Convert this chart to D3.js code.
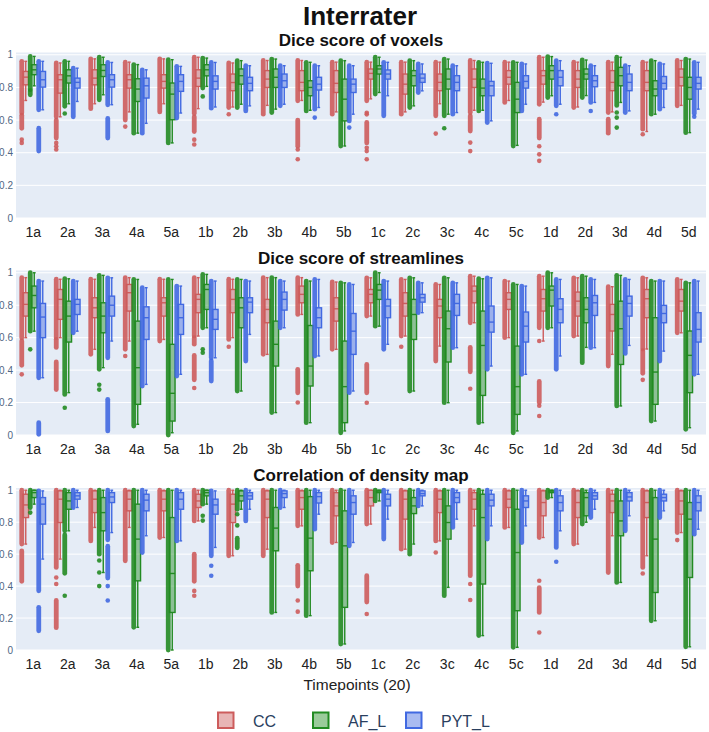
<!DOCTYPE html>
<html><head><meta charset="utf-8">
<script src="https://cdn.jsdelivr.net/npm/d3@7"></script>
<style>body{margin:0;background:#fff}svg{font-family:"Liberation Sans",Arial,sans-serif}</style>
</head><body><svg id="c" width="709" height="732"></svg>
<script>
const categories = ["1a","2a","3a","4a","5a","1b","2b","3b","4b","5b","1c","2c","3c","4c","5c","1d","2d","3d","4d","5d"];
const seriesNames = ["CC","AF_L","PYT_L"];
const seriesColors = ["#cd5c5c","#228b22","#4169e1"];
const panelTitles = ["Dice score of voxels","Dice score of streamlines","Correlation of density map"];
const yTicks = [0,0.2,0.4,0.6,0.8,1];
const yTickLabels = ["0","0.2","0.4","0.6","0.8","1"];

// each entry: [lowerWhisker, q1, median, q3, upperWhisker, lowest dense point, outliers (value or [from,to] dense run)]
const voxelsCC = [
 [.72,.816,.863,.898,.96,.643,[[.55,.63],.48,.46]],
 [.62,.765,.847,.878,.95,.62,[[.49,.60],.46,.44,.42]],
 [.70,.816,.857,.908,.975,.67,[]],
 [.65,.796,.847,.878,.955,.60,[.56]],
 [.70,.796,.837,.878,.975,.65,[]],
 [.67,.806,.857,.908,.985,.64,[[.53,.62],.48,.45]],
 [.68,.78,.83,.882,.95,.677,[.636]],
 [.69,.80,.851,.903,.965,.636,[]],
 [.72,.78,.831,.903,.965,.718,[[.44,.60],.42,.36]],
 [.65,.769,.825,.903,.955,.636,[]],
 [.73,.851,.886,.913,.955,.718,[.645,.635,[.46,.585],.43,.41,.36]],
 [.65,.759,.82,.882,.955,.636,[]],
 [.70,.78,.831,.882,.955,.626,[.517]],
 [.66,.80,.851,.913,.965,.646,[[.533,.626],.462,.41]],
 [.72,.82,.862,.903,.955,.708,[]],
 [.71,.82,.872,.903,.985,.697,[[.49,.605],.44,.39,.35]],
 [.68,.80,.851,.903,.955,.677,[]],
 [.65,.78,.831,.903,.955,.646,[[.52,.605]]],
 [.53,.78,.831,.903,.955,.544,[.513]],
 [.69,.81,.862,.913,.965,.687,[]]
];
const voxelsAF = [
 [.81,.878,.908,.939,.99,.786,[[.755,.78]]],
 [.70,.827,.871,.908,.96,.684,[.64]],
 [.755,.867,.904,.939,.985,.724,[]],
 [.52,.714,.79,.853,.94,.52,[]],
 [.46,.602,.759,.827,.97,.46,[]],
 [.806,.871,.908,.939,.98,.796,[.745]],
 [.697,.82,.872,.913,.964,.677,[]],
 [.667,.80,.862,.913,.974,.646,[]],
 [.66,.749,.80,.841,.954,.656,[]],
 [.441,.595,.728,.851,.964,.441,[]],
 [.769,.882,.913,.933,.985,.759,[]],
 [.687,.81,.872,.903,.964,.677,[]],
 [.636,.79,.851,.913,.974,.626,[.55]],
 [.66,.749,.796,.851,.954,.656,[]],
 [.445,.646,.728,.831,.954,.441,[]],
 [.749,.851,.903,.933,.989,.738,[]],
 [.75,.851,.882,.913,.968,.738,[]],
 [.708,.81,.872,.923,.985,.69,[.646,.615,.554]],
 [.636,.749,.79,.841,.964,.636,[]],
 [.523,.728,.80,.862,.974,.523,[]]
];
const voxelsPYT = [
 [.663,.802,.847,.898,.96,.663,[[.41,.55]]],
 [.714,.796,.831,.857,.918,.62,[]],
 [.694,.802,.847,.878,.953,.694,[[.49,.61]]],
 [.58,.735,.81,.857,.908,.52,[]],
 [.643,.776,.837,.878,.929,.612,[]],
 [.68,.79,.837,.871,.953,.673,[]],
 [.687,.78,.825,.862,.933,.656,[]],
 [.697,.80,.841,.882,.933,.687,[]],
 [.677,.784,.82,.862,.933,.667,[.615]],
 [.636,.769,.82,.851,.933,.595,[.554]],
 [.749,.851,.882,.907,.954,.626,[]],
 [.779,.831,.857,.882,.944,.769,[]],
 [.646,.78,.831,.872,.933,.636,[]],
 [.595,.749,.81,.837,.948,.585,[]],
 [.697,.796,.837,.872,.944,.656,[]],
 [.697,.81,.862,.903,.964,.687,[.636]],
 [.708,.804,.841,.872,.933,.708,[.656]],
 [.656,.78,.831,.882,.933,.646,[]],
 [.677,.79,.825,.867,.944,.667,[]],
 [.667,.79,.825,.862,.954,.64,[.62]]
];
const streamCC = [
 [.60,.733,.805,.877,.97,.60,[[.43,.58],.374]],
 [.60,.713,.836,.897,.96,.60,[[.54,.59],[.28,.45]]],
 [.528,.723,.784,.846,.96,.497,[]],
 [.579,.764,.877,.928,.97,.528,[.487]],
 [.589,.733,.815,.846,.96,.579,[]],
 [.61,.754,.836,.867,.97,.61,[[.56,.60],[.34,.49],.29]],
 [.60,.754,.836,.897,.96,.589,[.544]],
 [.497,.692,.774,.836,.97,.497,[]],
 [.743,.815,.867,.918,.97,.743,[[.26,.405],.20]],
 [.528,.702,.778,.846,.943,.528,[]],
 [.733,.815,.867,.897,.969,.733,[[.26,.435],.199]],
 [.61,.733,.811,.877,.959,.61,[.544]],
 [.548,.723,.795,.836,.928,.456,[]],
 [.692,.815,.887,.918,.979,.692,[[.39,.54],.285]],
 [.60,.774,.836,.877,.949,.60,[]],
 [.579,.764,.84,.897,.979,.661,[.579,[.2,.33],.18,.117]],
 [.61,.733,.825,.881,.969,.61,[]],
 [.497,.641,.743,.805,.914,.425,[]],
 [.53,.723,.84,.897,.969,.53,[[.38,.52],.34]],
 [.63,.764,.825,.897,.959,.63,[]]
];
const streamAF = [
 [.64,.784,.86,.918,1.0,.64,[.528]],
 [.261,.573,.733,.825,.963,.25,[.168]],
 [.415,.63,.733,.815,.984,.405,[.31,.28]],
 [.066,.189,.415,.702,.959,.055,[]],
 [.014,.086,.257,.559,.959,.0,[]],
 [.661,.774,.897,.928,.99,.661,[.528,.507]],
 [.271,.661,.784,.846,.959,.271,[]],
 [.138,.425,.559,.702,.97,.138,[]],
 [.076,.302,.425,.675,.949,.076,[]],
 [.025,.076,.298,.579,.938,.014,[]],
 [.671,.836,.893,.928,1.0,.671,[]],
 [.271,.589,.743,.836,.969,.271,[]],
 [.199,.45,.655,.764,.969,.199,[]],
 [.076,.244,.552,.764,.963,.076,[]],
 [.025,.127,.298,.548,.928,.014,[]],
 [.661,.795,.893,.918,1.0,.661,[]],
 [.54,.692,.774,.846,.979,.446,[]],
 [.179,.435,.655,.825,.984,.179,[]],
 [.086,.189,.388,.723,.949,.086,[]],
 [.045,.261,.491,.641,.938,.035,[]]
];
const streamPYT = [
 [.353,.60,.727,.811,.949,.353,[[.004,.076]]],
 [.64,.743,.805,.836,.949,.63,[]],
 [.579,.733,.80,.856,.969,.476,[[.025,.22]]],
 [.312,.589,.723,.79,.908,.302,[]],
 [.374,.62,.723,.805,.918,.363,[]],
 [.476,.651,.713,.774,.949,.476,[[.333,.456]]],
 [.62,.754,.819,.846,.949,.456,[]],
 [.661,.77,.836,.881,.949,.661,[]],
 [.487,.661,.723,.784,.959,.487,[]],
 [.271,.497,.64,.749,.928,.261,[]],
 [.559,.723,.795,.836,.949,.528,[]],
 [.754,.819,.846,.867,.938,.754,[]],
 [.538,.737,.811,.867,.938,.538,[]],
 [.425,.634,.696,.795,.969,.405,[]],
 [.374,.573,.671,.758,.918,.374,[]],
 [.487,.692,.774,.84,.959,.405,[]],
 [.538,.737,.815,.86,.959,.538,[]],
 [.552,.733,.811,.856,.959,.503,[]],
 [.517,.692,.749,.799,.949,.456,[]],
 [.374,.573,.651,.754,.949,.374,[]]
];
const densityCC = [
 [.663,.829,.908,.975,1.0,.663,[[.43,.62]]],
 [.569,.798,.944,.996,1.0,.517,[.454,.413,[.14,.31]]],
 [.767,.86,.944,.996,1.0,.683,[]],
 [.767,.871,.944,.996,1.0,.558,[]],
 [.704,.871,.944,.996,1.0,.704,[]],
 [.808,.892,.933,.975,1.0,.808,[[.43,.60],.37,.34]],
 [.59,.798,.913,.975,1.0,.59,[]],
 [.631,.829,.944,.996,1.0,.59,[]],
 [.777,.881,.954,.996,1.0,.777,[[.40,.53],.31,.24]],
 [.673,.84,.902,.985,1.0,.673,[]],
 [.788,.902,.954,1.0,1.0,.788,[[.30,.465],.225]],
 [.631,.819,.944,.996,1.0,.631,[]],
 [.683,.86,.944,.996,1.0,.683,[.61]],
 [.777,.881,.944,.985,1.0,.465,[.413,.313]],
 [.767,.892,.944,.996,1.0,.767,[]],
 [.704,.84,.923,.996,1.0,.704,[.433,[.235,.39],.11]],
 [.663,.829,.923,.996,1.0,.663,[]],
 [.715,.86,.933,.975,1.0,.485,[]],
 [.59,.829,.923,.996,1.0,.517,[.479]],
 [.735,.85,.933,.996,1.0,.735,[.688]]
];
const densityAF = [
 [.913,.954,.985,1.0,1.0,.892,[.86]],
 [.746,.881,.933,.985,1.0,.746,[[.48,.72],.34]],
 [.485,.746,.86,.954,1.0,.60,[.56,.485,.40]],
 [.142,.433,.694,.913,1.0,.142,[]],
 [.0,.235,.479,.829,1.0,.0,[]],
 [.913,.965,.985,1.0,1.0,.913,[.84,.81]],
 [.881,.933,.965,.996,1.0,.881,[.85,.78,[.64,.70]]],
 [.235,.621,.763,.892,1.0,.235,[]],
 [.215,.496,.70,.96,1.0,.215,[]],
 [.0375,.267,.652,.871,1.0,.0375,[]],
 [.933,.985,.99,1.0,1.0,.933,[]],
 [.663,.854,.902,.954,1.0,.60,[]],
 [.392,.694,.798,.902,1.0,.34,[]],
 [.09,.413,.829,.975,1.0,.09,[]],
 [.017,.246,.61,.881,1.0,.017,[]],
 [.954,.985,.99,1.0,1.0,.954,[]],
 [.80,.84,.954,.985,1.0,.788,[]],
 [.423,.715,.808,.933,1.0,.423,[]],
 [.183,.36,.694,.954,1.0,.183,[]],
 [.02,.454,.819,.923,1.0,.02,[]]
];
const densityPYT = [
 [.569,.788,.913,.954,.996,.371,[[.12,.267]]],
 [.892,.944,.965,.985,1.0,.892,[]],
 [.735,.923,.958,.985,1.0,.69,[[.45,.65],.40,.31]],
 [.715,.871,.938,.975,1.0,.61,[]],
 [.683,.881,.944,.985,1.0,.683,[]],
 [.642,.85,.908,.944,.996,.59,[.527,.465]],
 [.881,.944,.965,.985,1.0,.808,[]],
 [.892,.954,.979,.996,1.0,.892,[]],
 [.85,.92,.96,.985,1.0,.756,[]],
 [.673,.85,.923,.965,1.0,.652,[]],
 [.819,.902,.944,.975,1.0,.694,[]],
 [.902,.965,.979,.996,1.0,.902,[]],
 [.819,.923,.954,.985,1.0,.767,[]],
 [.777,.902,.938,.975,1.0,.694,[]],
 [.777,.892,.933,.965,1.0,.673,[]],
 [.746,.871,.923,.965,1.0,.642,[.552]],
 [.881,.944,.965,.985,1.0,.829,[]],
 [.84,.933,.958,.985,1.0,.746,[]],
 [.871,.933,.954,.975,1.0,.829,[]],
 [.756,.871,.923,.965,1.0,.725,[]]
];

const panels = [
  {title: panelTitles[0], data: [voxelsCC, voxelsAF, voxelsPYT], top: 52.5, bottom: 218},
  {title: panelTitles[1], data: [streamCC, streamAF, streamPYT], top: 270.5, bottom: 435},
  {title: panelTitles[2], data: [densityCC, densityAF, densityPYT], top: 488, bottom: 650}
];

const svg = d3.select("#c");
svg.append("rect").attr("width",709).attr("height",732).attr("fill","#fff");

const x = d3.scaleBand().domain(categories).range([16, 706]);
const slot = d3.scaleBand().domain(seriesNames).range([-12.75, 12.75]);
const boxW = 5.6, colW = 4.8;

svg.append("text").attr("x", 360).attr("y", 25).attr("text-anchor","middle")
  .attr("font-size", 26).attr("font-weight","bold").attr("fill","#111").text("Interrater");

panels.forEach((p, pi) => {
  const y = d3.scaleLinear().domain([0, 1.014]).range([p.bottom, p.top]);
  const g = svg.append("g");
  g.append("rect").attr("x", 16).attr("y", p.top).attr("width", 690).attr("height", p.bottom - p.top).attr("fill", "#E5ECF6");
  g.selectAll("line.grid").data(yTicks).join("line").attr("class","grid")
    .attr("x1",16).attr("x2",706).attr("y1",d=>y(d)).attr("y2",d=>y(d))
    .attr("stroke","#fff").attr("stroke-width",1);
  g.selectAll("text.yt").data(yTicks).join("text").attr("class","yt")
    .attr("x",13).attr("y",d=>y(d)+3.5).attr("text-anchor","end")
    .attr("font-size",10).attr("fill","#506784").text((d,i)=>yTickLabels[i]);
  g.selectAll("text.xt").data(categories).join("text").attr("class","xt")
    .attr("x",d=>x(d)+x.bandwidth()/2).attr("y",p.bottom+19).attr("text-anchor","middle")
    .attr("font-size",14).attr("fill","#222").text(d=>d);
  svg.append("text").attr("x",361).attr("y",p.top-7).attr("text-anchor","middle")
    .attr("font-size",17).attr("font-weight","bold").attr("fill","#111").text(p.title);

  p.data.forEach((arr, si) => {
    const col = seriesColors[si];
    const sg = g.append("g");
    arr.forEach((b, ci) => {
      const cx = x(categories[ci]) + x.bandwidth()/2 + slot(seriesNames[si]) + slot.bandwidth()/2;
      const bx = cx + 1, px = cx - 3;
      const [lo,q1,med,q3,hi,ptLo,outs] = b;
      // dense point column
      sg.append("rect").attr("x", px-colW/2).attr("y", y(hi)-colW/2).attr("width", colW)
        .attr("height", y(ptLo)-y(hi)+colW).attr("rx", colW/2).attr("fill", col).attr("opacity",0.9);
      outs.forEach(o => {
        if (Array.isArray(o)) {
          sg.append("rect").attr("x", px-colW/2).attr("y", y(o[1])-colW/2).attr("width", colW)
            .attr("height", y(o[0])-y(o[1])+colW).attr("rx", colW/2).attr("fill", col).attr("opacity",0.9);
        } else {
          sg.append("circle").attr("cx", px).attr("cy", y(o)).attr("r", 2.3).attr("fill", col).attr("opacity",0.9);
        }
      });
      // whiskers
      sg.append("line").attr("x1",bx).attr("x2",bx).attr("y1",y(q3)).attr("y2",y(hi)).attr("stroke",col).attr("stroke-width",1.4);
      sg.append("line").attr("x1",bx).attr("x2",bx).attr("y1",y(q1)).attr("y2",y(lo)).attr("stroke",col).attr("stroke-width",1.4);
      [lo,hi].forEach(v => sg.append("line").attr("x1",bx-boxW/4).attr("x2",bx+boxW/4).attr("y1",y(v)).attr("y2",y(v)).attr("stroke",col).attr("stroke-width",1.4));
      // box
      sg.append("rect").attr("x",bx-boxW/2).attr("y",y(q3)).attr("width",boxW).attr("height",Math.max(0.5,y(q1)-y(q3)))
        .attr("fill",col).attr("fill-opacity",0.45).attr("stroke",col).attr("stroke-width",1.4);
      sg.append("line").attr("x1",bx-boxW/2).attr("x2",bx+boxW/2).attr("y1",y(med)).attr("y2",y(med)).attr("stroke",col).attr("stroke-width",1.4);
    });
  });
});

svg.append("text").attr("x",357).attr("y",690).attr("text-anchor","middle")
  .attr("font-size",15.5).attr("fill","#222").text("Timepoints (20)");

const legendX = [217, 312, 405];
seriesNames.forEach((s,i) => {
  svg.append("rect").attr("x",legendX[i]+1).attr("y",712.5).attr("width",15.5).attr("height",15.5)
    .attr("fill",seriesColors[i]).attr("fill-opacity",0.45).attr("stroke",seriesColors[i]).attr("stroke-width",2);
  svg.append("text").attr("x",legendX[i]+36).attr("y",727).attr("font-size",16).attr("fill","#2a3f5f").text(s);
});
</script></body></html>
